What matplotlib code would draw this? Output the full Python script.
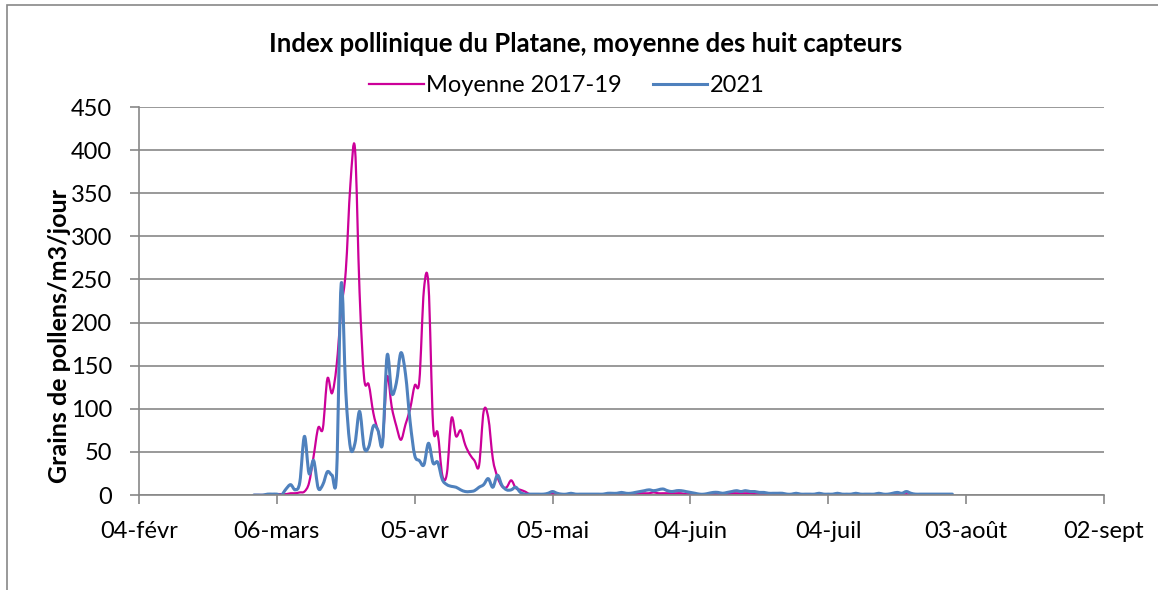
import matplotlib
matplotlib.use("Agg")
import matplotlib.pyplot as plt
import matplotlib.dates as mdates
from matplotlib.patches import Rectangle, PathPatch
from matplotlib.path import Path
from matplotlib.lines import Line2D
import numpy as np
import pandas as pd

# daily values, 1 March 2021 -> 31 July 2021
start_day = "2021-03-01"
moyenne_2017_19 = [
    0, 0, 0, 0, 0, 1, 1, 1, 2, 2, 3, 4, 14, 45, 78, 77, 135, 118, 150, 215,
    260, 360, 402, 235, 135, 128, 95, 75, 62, 137, 102, 80, 64, 82, 100, 127, 132, 238, 243, 81,
    72, 23, 25, 89, 68, 75, 58, 47, 40, 34, 97, 90, 42, 21, 10, 9, 17, 8, 6, 4,
    1, 1, 1, 1, 1, 1, 1, 0, 0, 1, 0, 0, 0, 0, 0, 0, 0, 0, 1, 1,
    1, 1, 1, 1, 2, 2, 2, 3, 2, 2, 2, 2, 2, 2, 1, 1, 1, 0, 0, 0,
    1, 1, 1, 1, 2, 2, 2, 2, 2, 1, 1, 1, 1, 1, 1, 1, 1, 0, 1, 0,
    0, 1, 0, 0, 1, 0, 0, 0, 1, 0, 0, 1, 0, 0, 0, 1, 0, 0, 0, 1,
    0, 0, 1, 0, 0, 0, 1, 0, 0, 0, 0, 0, 0,
]
annee_2021 = [
    0, 0, 0, 1, 1, 1, 0, 7, 12, 6, 15, 68, 25, 40, 8, 12, 27, 23, 25, 245,
    120, 55, 60, 97, 55, 56, 80, 75, 60, 162, 118, 130, 165, 140, 85, 46, 40, 35, 60, 37,
    38, 18, 12, 10, 9, 6, 4, 4, 5, 9, 12, 19, 9, 23, 11, 6, 6, 9, 3, 1,
    1, 1, 1, 1, 2, 4, 2, 1, 1, 2, 1, 1, 1, 1, 1, 1, 1, 2, 2, 2,
    3, 2, 2, 3, 4, 5, 6, 5, 6, 7, 5, 4, 5, 5, 4, 3, 2, 1, 1, 2,
    3, 3, 2, 3, 4, 5, 4, 5, 4, 4, 3, 3, 2, 2, 2, 2, 1, 1, 2, 1,
    1, 1, 1, 2, 1, 1, 1, 2, 1, 1, 1, 2, 1, 1, 1, 1, 2, 1, 1, 2,
    3, 2, 4, 2, 1, 1, 1, 1, 1, 1, 1, 1, 1,
]
tick_dates = ["2021-02-04", "2021-03-06", "2021-04-05", "2021-05-05",
              "2021-06-04", "2021-07-04", "2021-08-03", "2021-09-02"]
tick_labels = ["04-févr", "06-mars", "05-avr", "05-mai",
               "04-juin", "04-juil", "03-août", "02-sept"]

days = pd.date_range(start_day, periods=len(annee_2021), freq="D")


def smooth_path(x, y):
    # Excel-like smoothed line: bezier segments through every data point
    x = np.asarray(x, float)
    y = np.asarray(y, float)
    xp = np.concatenate([[x[0]], x, [x[-1]]])
    yp = np.concatenate([[y[0]], y, [y[-1]]])
    verts = [(x[0], y[0])]
    codes = [Path.MOVETO]
    for i in range(len(x) - 1):
        c1 = (x[i] + (x[i + 1] - xp[i]) / 6, y[i] + (y[i + 1] - yp[i]) / 6)
        c2 = (x[i + 1] - (xp[i + 3] - x[i]) / 6, y[i + 1] - (yp[i + 3] - y[i]) / 6)
        verts += [c1, c2, (x[i + 1], y[i + 1])]
        codes += [Path.CURVE4] * 3
    return Path(verts, codes)


plt.rcParams['font.family'] = ['Lato', 'DejaVu Sans']
grid_col = '#878787'
pink = '#CC0099'
blue = '#4F81BD'

W, H = 1158, 590
fig = plt.figure(figsize=(W / 100, H / 100), dpi=100)
ax = fig.add_axes([139 / W, 1 - 495 / H, (1104 - 139) / W, (495 - 107) / H])

xnum = mdates.date2num(days)
ax.add_patch(PathPatch(smooth_path(xnum, moyenne_2017_19), fill=False,
                       edgecolor=pink, linewidth=1.6, capstyle='round', joinstyle='round'))
ax.add_patch(PathPatch(smooth_path(xnum, annee_2021), fill=False,
                       edgecolor=blue, linewidth=2.2, capstyle='round', joinstyle='round'))

ax.set_ylim(0, 450)
ax.set_yticks(range(0, 451, 50))
ax.set_xlim(mdates.datestr2num(tick_dates[0]), mdates.datestr2num(tick_dates[-1]))
ax.set_xticks([mdates.datestr2num(d) for d in tick_dates])
ax.set_xticklabels(tick_labels)

ax.grid(axis='y', color=grid_col, linewidth=1.2)
ax.set_axisbelow(True)
for s in ['top', 'right']:
    ax.spines[s].set_visible(False)
for s in ['left', 'bottom']:
    ax.spines[s].set_color(grid_col)
    ax.spines[s].set_linewidth(1.2)
ax.tick_params(axis='both', colors=grid_col, labelcolor='black', labelsize=17,
               length=6.5, width=1.2)
ax.tick_params(axis='x', pad=12)
ax.tick_params(axis='y', pad=13)

fig.text(586 / W, 1 - 44 / H, 'Index pollinique du Platane, moyenne des huit capteurs',
         ha='center', va='center', fontsize=18.5, fontweight='bold')
fig.text(60 / W, 1 - 336 / H, 'Grains de pollens/m3/jour', rotation=90,
         ha='center', va='center', fontsize=18, fontweight='bold')

handles = [Line2D([], [], color=pink, linewidth=1.6),
           Line2D([], [], color=blue, linewidth=2.2)]
fig.legend(handles, ['Moyenne 2017-19', '2021'], loc='center',
           bbox_to_anchor=(567 / W, 1 - 86 / H), ncol=2, frameon=False,
           fontsize=17, handlelength=2.3, handletextpad=0.12, columnspacing=1.3)

fig.add_artist(Rectangle((7 / W, -0.1), 2, 1.1 - 5 / H, transform=fig.transFigure,
                         fill=False, edgecolor=grid_col, linewidth=1.2))

fig.savefig('out.png', dpi=100)
